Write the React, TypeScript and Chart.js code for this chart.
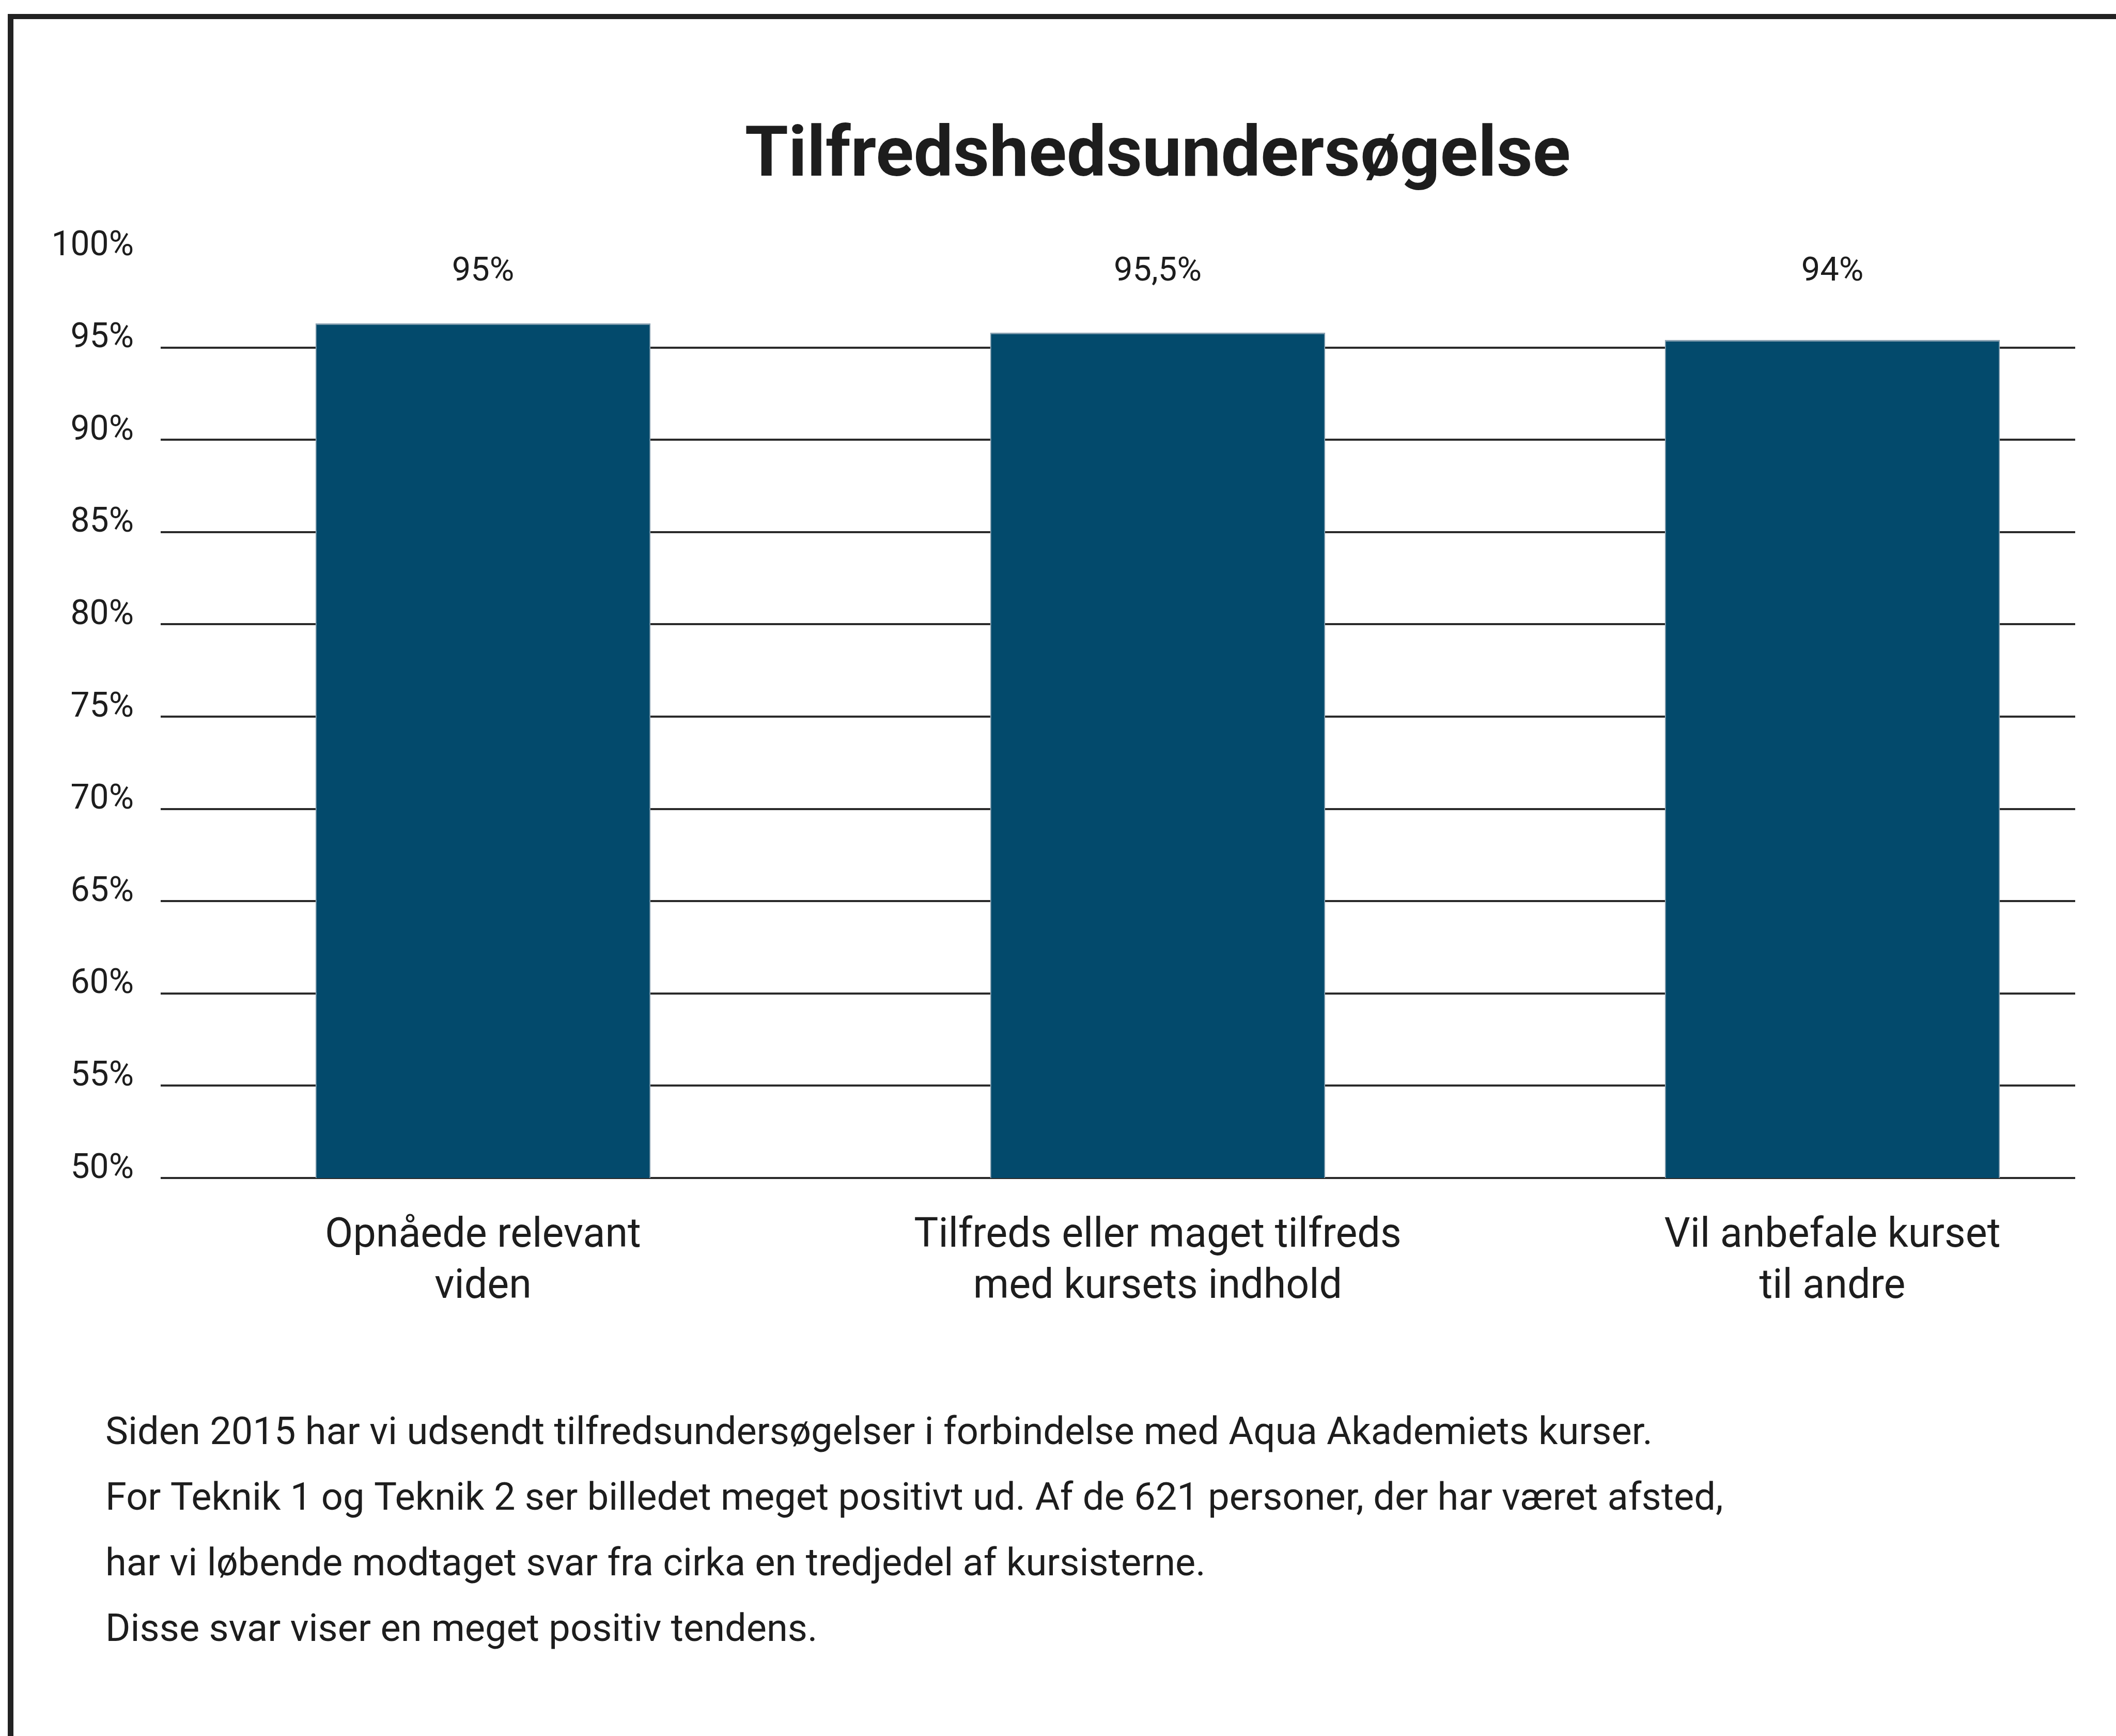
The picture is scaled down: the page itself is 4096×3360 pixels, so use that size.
import React, { useEffect, useRef } from "react";
import { Chart, registerables } from "chart.js";

Chart.register(...registerables);

// ---- data ----
const categories: string[][] = [
  ["Opnåede relevant", "viden"],
  ["Tilfreds eller maget tilfreds", "med kursets indhold"],
  ["Vil anbefale kurset", "til andre"],
];
const barValues: number[] = [96.3, 95.8, 95.4];
const valueLabels: string[] = ["95%", "95,5%", "94%"];
const yTickValues: number[] = [50, 55, 60, 65, 70, 75, 80, 85, 90, 95, 100];
const titleText = "Tilfredshedsundersøgelse";
const noteLines: string[] = [
  "Siden 2015 har vi udsendt tilfredsundersøgelser i forbindelse med Aqua Akademiets kurser.",
  "For Teknik 1 og Teknik 2 ser billedet meget positivt ud. Af de 621 personer, der har været afsted,",
  "har vi løbende modtaget svar fra cirka en tredjedel af kursisterne.",
  "Disse svar viser en meget positiv tendens.",
];

const W = 4096;
const H = 3360;
const TEXT = "#1d1d1d";
const NARROW = '"Liberation Sans Narrow", "Roboto"';

const decorPlugin = {
  id: "decor",
  beforeDraw(chart: any) {
    const ctx = chart.ctx;
    ctx.save();
    ctx.fillStyle = "#ffffff";
    ctx.fillRect(0, 0, W, H);
    ctx.fillStyle = "#222222";
    ctx.fillRect(15, 27, W - 15, 10);
    ctx.fillRect(15, 27, 11, H - 27);
    ctx.restore();
  },
  afterDraw(chart: any) {
    const ctx = chart.ctx;
    const xs = chart.scales.x;
    const area = chart.chartArea;
    ctx.save();
    ctx.fillStyle = TEXT;
    // title centred over middle category
    ctx.font = "bold 136px Roboto";
    ctx.textAlign = "center";
    ctx.textBaseline = "alphabetic";
    ctx.fillText(titleText, xs.getPixelForValue(1), 340);
    // value labels
    ctx.font = `65px ${NARROW}`;
    ctx.textBaseline = "middle";
    valueLabels.forEach((t, i) => {
      ctx.fillText(t, xs.getPixelForValue(i), area.top + 33);
    });
    // footnote
    ctx.font = "74px Roboto";
    ctx.textAlign = "left";
    ctx.textBaseline = "alphabetic";
    noteLines.forEach((t, i) => {
      ctx.fillText(t, 204, 2795 + i * 127);
    });
    ctx.restore();
  },
};

export default function App() {
  const ref = useRef<HTMLCanvasElement | null>(null);

  useEffect(() => {
    if (!ref.current) return;
    const chart = new Chart(ref.current, {
      type: "bar",
      data: {
        datasets: [
          {
            data: barValues.map((v, i) => ({ x: i, y: v })),
            backgroundColor: "#034a6c",
            borderColor: "#8aa2b2",
            borderWidth: { top: 3, left: 2, right: 2, bottom: 0 },
            borderSkipped: "start",
            barThickness: 648,
          } as any,
        ],
      },
      options: {
        responsive: false,
        animation: false,
        events: [],
        layout: { padding: { left: 0, right: 79, top: 494, bottom: 780 } },
        plugins: {
          legend: { display: false },
          title: { display: false },
          tooltip: { enabled: false },
        },
        scales: {
          x: {
            type: "linear",
            offset: false,
            min: -0.4778,
            max: 2.3599,
            grid: { display: false, offset: false },
            border: { display: false },
            afterBuildTicks: (axis: any) => {
              axis.ticks = categories.map((_, i) => ({ value: i }));
            },
            afterFit: (axis: any) => {
              axis.height = 300;
            },
            ticks: {
              autoSkip: false,
              maxRotation: 0,
              minRotation: 0,
              padding: 56,
              color: TEXT,
              font: { family: "Roboto", size: 79, lineHeight: 1.25 },
              callback: (v: any) => categories[Math.round(Number(v))] as any,
            },
          },
          y: {
            type: "linear",
            min: 50,
            max: 100,
            beginAtZero: false,
            border: { display: false },
            afterBuildTicks: (axis: any) => {
              axis.ticks = yTickValues.map((v) => ({ value: v }));
            },
            afterFit: (axis: any) => {
              axis.width = 311;
            },
            grid: {
              drawTicks: false,
              lineWidth: 4,
              color: (c: any) =>
                c.tick && c.tick.value === 100 ? "rgba(0,0,0,0)" : "#2a2a2a",
            },
            ticks: {
              padding: 52,
              labelOffset: -17,
              color: TEXT,
              font: { family: NARROW, size: 66 },
              callback: (v: any) => `${v}%`,
            },
          },
        },
      },
      plugins: [decorPlugin],
    } as any);
    return () => chart.destroy();
  }, []);

  return (
    <div style={{ position: "absolute", left: 0, top: 0, width: W, height: H, background: "#fff" }}>
      <canvas ref={ref} width={W} height={H} style={{ display: "block", width: W, height: H }} />
    </div>
  );
}
